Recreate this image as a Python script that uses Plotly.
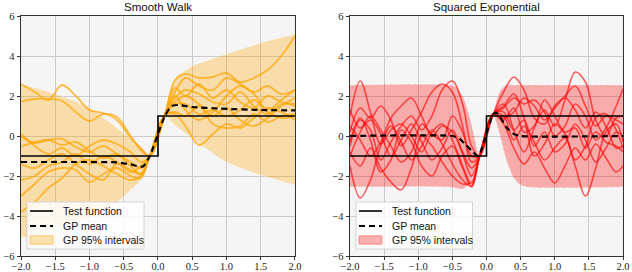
import plotly.graph_objects as go

# ---------------- data ----------------
x_ticks = [-2.0, -1.5, -1.0, -0.5, 0.0, 0.5, 1.0, 1.5, 2.0]
y_ticks = [-6, -4, -2, 0, 2, 4, 6]

test_x = [-2.0, 0.0, 0.0, 2.0]
test_y = [-1.0, -1.0, 1.0, 1.0]

# Smooth Walk panel
sw_mean_x = [-2.0, -1.2, -0.6, -0.4, -0.22, -0.12, 0.1, 0.2, 0.3, 0.5, 0.9, 1.5, 2.0]
sw_mean_y = [-1.3, -1.3, -1.32, -1.42, -1.53, -1.0, 1.0, 1.5, 1.55, 1.45, 1.37, 1.3, 1.28]

sw_band_x = [-2.0, -1.5, -1.0, -0.6, -0.4, -0.25, -0.12, 0.1, 0.15, 0.2, 0.3, 0.5, 0.75, 1.0, 1.5, 2.0]
sw_upper = [2.6, 2.1, 1.4, 0.4, -0.15, -0.65, -1.0, 1.05, 1.9, 2.5, 3.0, 3.5, 3.8, 4.1, 4.65, 5.1]
sw_lower = [-5.1, -4.7, -4.1, -3.3, -2.7, -2.2, -1.0, 1.05, 0.9, 0.7, 0.4, -0.1, -0.75, -1.3, -1.95, -2.45]

sw_knots = [-2.0, -1.8, -1.6, -1.4, -1.2, -1.0, -0.8, -0.6, -0.4, -0.25, -0.12,
            0.1, 0.25, 0.4, 0.6, 0.8, 1.0, 1.2, 1.4, 1.6, 1.8, 2.0]
sw_s1 = [2.6, 2.2, 1.8, 2.55, 2.0, 1.3, 1.15, 0.8, -0.1, -0.6, -1.0,
         1.05, 2.8, 3.1, 2.9, 2.95, 3.15, 2.7, 2.9, 3.3, 4.0, 5.0]
sw_s2 = [1.72, 1.85, 1.85, 1.75, 1.2, 0.75, 1.1, 0.95, 0.0, -0.7, -1.0,
         1.05, 2.2, 2.9, 2.5, 2.3, 2.9, 2.6, 2.2, 2.5, 2.1, 2.3]
sw_s3 = [-0.03, -0.35, -0.2, -0.15, -0.55, -0.8, -0.5, -0.9, -1.3, -1.6, -1.0,
         1.05, 1.9, 2.3, 2.1, 1.7, 1.6, 2.2, 1.5, 1.1, 1.6, 1.5]
sw_s4 = [-0.53, -0.3, -0.2, -0.45, -0.3, -0.75, -1.1, -0.9, -1.5, -1.9, -1.0,
         1.05, 1.6, 1.6, 1.1, 1.3, 1.0, 1.3, 1.8, 1.2, 0.9, 1.0]
sw_s5 = [-3.0, -2.4, -1.8, -1.6, -1.7, -2.3, -1.9, -1.6, -2.0, -2.1, -1.0,
         1.05, 1.1, 0.5, -0.45, 0.1, 0.6, 0.4, 0.9, 1.4, 1.2, 0.8]
sw_s6 = [-3.8, -3.3, -2.6, -2.1, -1.4, -1.2, -1.5, -1.9, -2.2, -2.0, -1.0,
         1.05, 1.7, 2.0, 1.6, 1.0, 1.4, 0.8, 0.5, 0.9, 1.5, 1.9]
sw_s7 = [0.1, -0.5, -0.9, -0.6, -1.0, -0.5, -0.2, -0.4, -0.8, -1.3, -1.0,
         1.05, 2.4, 2.0, 2.6, 1.9, 2.3, 1.7, 1.4, 2.0, 1.7, 1.6]
sw_s8 = [-1.4, -1.6, -1.2, -0.9, -1.4, -1.9, -2.2, -1.4, -1.7, -1.9, -1.0,
         1.05, 1.2, 1.0, 1.5, 0.6, 0.4, 0.5, 1.1, 0.7, 1.0, 1.1]
sw_s9 = [-2.2, -2.0, -1.5, -1.3, -0.9, -1.4, -1.0, -1.3, -1.8, -1.5, -1.0,
         1.05, 2.0, 1.3, 0.8, 1.2, 2.0, 2.5, 2.1, 1.3, 1.8, 2.3]
sw_samples = [sw_s1, sw_s2, sw_s3, sw_s4, sw_s5, sw_s6, sw_s7, sw_s8, sw_s9]

# Squared Exponential panel
se_mean_x = [-2.0, -0.5, -0.4, -0.3, -0.2, -0.12, 0.1, 0.15, 0.2, 0.3, 0.4, 0.5, 2.0]
se_mean_y = [0.0, 0.0, -0.12, -0.45, -0.8, -1.0, 1.1, 1.15, 0.95, 0.4, 0.1, 0.0, 0.0]

se_band_x = [-2.0, -0.55, -0.45, -0.35, -0.25, -0.18, -0.1, 0.1, 0.15, 0.2, 0.25, 0.3, 0.4, 0.5, 0.6, 2.0]
se_upper = [2.55, 2.55, 2.45, 2.0, 1.0, 0.0, -1.0, 1.1, 1.8, 2.25, 2.45, 2.55, 2.55, 2.55, 2.55, 2.55]
se_lower = [-2.55, -2.55, -2.6, -2.65, -2.4, -1.8, -1.0, 1.1, 0.6, 0.0, -0.7, -1.3, -2.1, -2.45, -2.55, -2.55]

se_knots = [-2.0, -1.85, -1.7, -1.55, -1.4, -1.25, -1.1, -0.95, -0.8, -0.65, -0.5, -0.35, -0.22, -0.1,
            0.1, 0.25, 0.4, 0.55, 0.7, 0.85, 1.0, 1.15, 1.3, 1.45, 1.6, 1.75, 1.9, 2.0]
se_s1 = [1.0, 2.75, 1.2, -0.4, 0.3, 0.6, 0.0, -0.8, 0.2, 0.6, -0.2, -1.5, -2.4, -1.0,
         1.1, 1.6, 0.3, -0.8, 0.4, 1.3, 0.5, 1.8, 3.2, 2.7, 0.8, 0.0, 0.9, 1.0]
se_s2 = [-1.5, -3.1, -2.2, -0.5, 0.5, -0.3, -1.2, -0.5, 0.3, -0.4, -1.4, -2.2, -2.5, -1.0,
         1.1, 1.0, -0.2, 0.5, -0.3, -1.2, -0.6, -0.1, -1.5, -3.0, -1.6, 0.2, 0.6, -0.3]
se_s3 = [0.2, 1.4, 0.9, 1.5, 0.8, -0.5, 0.3, 1.2, 2.2, 2.6, 2.2, 0.5, -1.3, -1.0,
         1.1, 2.2, 2.95, 2.3, 0.9, 0.6, 1.5, 1.9, 1.3, 0.4, 1.2, 0.5, -0.6, -0.5]
se_s4 = [-0.5, 0.8, 0.3, -1.2, -0.3, 0.5, 1.0, 0.3, 1.0, 2.3, 2.75, 1.6, -0.5, -1.0,
         1.1, 1.4, 1.9, 1.6, 1.8, 1.2, 0.0, 0.5, 1.6, 1.0, -0.2, 0.4, 1.5, 2.35]
se_s5 = [0.5, -0.2, -1.0, -0.3, 0.9, 1.5, 1.9, 1.0, 0.0, 0.5, 0.2, -0.8, -1.6, -1.0,
         1.1, 0.9, 1.2, 1.9, 1.5, 0.8, 1.4, 2.0, 2.5, 1.5, 0.5, 1.0, 0.8, 0.6]
se_s6 = [-0.8, -1.5, -0.6, -1.6, -2.3, -2.7, -1.6, 0.0, -0.5, -1.3, -2.0, -2.4, -2.3, -1.0,
         1.1, 0.6, -0.6, -1.4, -0.8, -1.6, -2.35, -1.5, -0.6, -1.2, -0.4, -1.1, -1.8, -1.5]
se_s7 = [1.3, 0.4, 0.8, 0.1, -1.0, -0.2, 0.6, -0.3, -1.2, -0.6, 0.3, -0.9, -2.0, -1.0,
         1.1, 1.2, 0.3, 0.8, -0.5, 0.2, -0.8, -0.4, 0.6, -0.2, -1.3, -0.6, 0.2, 0.0]
se_s8 = [-0.3, 0.9, -0.2, -1.8, -1.2, 0.3, -0.3, -1.5, -2.0, -1.0, -0.5, -1.6, -2.55, -1.0,
         1.1, 1.5, 2.1, 0.9, -1.0, -0.4, 0.6, 0.1, -1.2, -0.5, 0.9, 1.1, 0.3, -0.6]
se_s9 = [-1.0, 0.2, 1.0, 0.3, -0.5, -1.3, -0.8, 0.6, 0.1, -0.2, 1.0, 0.2, -1.0, -1.0,
         1.1, 0.8, 1.4, 0.2, 0.5, 1.8, 1.0, 0.2, 0.4, -0.6, 0.2, -0.3, -0.5, -0.8]
se_samples = [se_s1, se_s2, se_s3, se_s4, se_s5, se_s6, se_s7, se_s8, se_s9]

panel_titles = ["Smooth Walk", "Squared Exponential"]
legend_labels = ["Test function", "GP mean", "GP 95% intervals"]

# ---------------- styles ----------------
SANS = "Liberation Sans"
SERIF = "Liberation Serif"
panels = [
    dict(xa="x", ya="y", mean_x=sw_mean_x, mean_y=sw_mean_y,
         bx=sw_band_x, up=sw_upper, lo=sw_lower, knots=sw_knots, samples=sw_samples,
         band="rgba(255,165,0,0.3)", line="rgba(255,165,0,0.72)", edge="rgba(255,190,90,0.9)", lw=1.8),
    dict(xa="x2", ya="y2", mean_x=se_mean_x, mean_y=se_mean_y,
         bx=se_band_x, up=se_upper, lo=se_lower, knots=se_knots, samples=se_samples,
         band="rgba(255,0,0,0.3)", line="rgba(255,0,0,0.62)", edge="rgba(255,120,120,0.9)", lw=1.6),
]

fig = go.Figure()
for p in panels:
    fig.add_trace(go.Scatter(x=p["bx"], y=p["lo"], mode="lines", xaxis=p["xa"], yaxis=p["ya"],
                             line=dict(color="rgba(255,255,255,0.6)", width=0.7, dash="dot", shape="spline", smoothing=0.8),
                             showlegend=False, hoverinfo="skip"))
    fig.add_trace(go.Scatter(x=p["bx"], y=p["up"], mode="lines", xaxis=p["xa"], yaxis=p["ya"],
                             fill="tonexty", fillcolor=p["band"],
                             line=dict(color="rgba(255,255,255,0.6)", width=0.7, dash="dot", shape="spline", smoothing=0.8),
                             showlegend=False, hoverinfo="skip"))
    for s in p["samples"]:
        fig.add_trace(go.Scatter(x=p["knots"], y=s, mode="lines", xaxis=p["xa"], yaxis=p["ya"],
                                 line=dict(color=p["line"], width=p["lw"], shape="spline", smoothing=1.0),
                                 showlegend=False, hoverinfo="skip"))
    fig.add_trace(go.Scatter(x=test_x, y=test_y, mode="lines", xaxis=p["xa"], yaxis=p["ya"],
                             line=dict(color="black", width=1.6), showlegend=False, hoverinfo="skip"))
    fig.add_trace(go.Scatter(x=p["mean_x"], y=p["mean_y"], mode="lines", xaxis=p["xa"], yaxis=p["ya"],
                             line=dict(color="black", width=2.2, dash="6px,4px", shape="spline", smoothing=0.6),
                             showlegend=False, hoverinfo="skip"))

axis_common = dict(showline=True, mirror=True, linecolor="#333333", linewidth=1.3,
                   ticks="outside", ticklen=3, tickcolor="#333333", tickwidth=1,
                   showgrid=True, gridcolor="#cbcbcb", gridwidth=1, zeroline=False, automargin=False,
                   tickfont=dict(family=SERIF, size=10.5, color="#222222"))
x_common = dict(axis_common, range=[-2, 2], tickvals=x_ticks, tickformat=".1f", ticklabelstandoff=-3)
y_common = dict(axis_common, range=[-6, 6], tickvals=y_ticks)

# hand-drawn legend boxes (one per panel), positioned in each panel's domain fractions
shapes = []
annotations = []
leg_x0, leg_x1, leg_y0, leg_y1 = 0.022, 0.449, 0.029, 0.225
sym_x0, sym_x1, txt_x = 0.033, 0.117, 0.146
row_y = [0.1875, 0.125, 0.0667]
for p in panels:
    xr, yr = p["xa"] + " domain", p["ya"] + " domain"
    shapes.append(dict(type="rect", xref=xr, yref=yr, x0=leg_x0, x1=leg_x1, y0=leg_y0, y1=leg_y1,
                       fillcolor="rgba(255,255,255,0.82)", line=dict(color="#d4d4d4", width=1), layer="above"))
    shapes.append(dict(type="line", xref=xr, yref=yr, x0=sym_x0, x1=sym_x1, y0=row_y[0], y1=row_y[0],
                       line=dict(color="black", width=1.6), layer="above"))
    shapes.append(dict(type="line", xref=xr, yref=yr, x0=sym_x0, x1=sym_x1, y0=row_y[1], y1=row_y[1],
                       line=dict(color="black", width=2.2, dash="6px,4px"), layer="above"))
    shapes.append(dict(type="rect", xref=xr, yref=yr, x0=sym_x0, x1=sym_x1, y0=row_y[2] - 0.017, y1=row_y[2] + 0.017,
                       fillcolor=p["band"], line=dict(color=p["edge"], width=1), layer="above"))
    for lab, ry in zip(legend_labels, row_y):
        annotations.append(dict(text=lab, xref=xr, yref=yr, x=txt_x, y=ry, xanchor="left", yanchor="middle",
                                showarrow=False, font=dict(family=SANS, size=10.5, color="#111111")))

for title, xa in zip(panel_titles, ["x", "x2"]):
    annotations.append(dict(text=title, x=0.5, y=1, xref=xa + " domain", yref="paper",
                            xanchor="center", yanchor="bottom", yshift=1, showarrow=False,
                            font=dict(family=SANS, size=11.5, color="#111111")))

fig.update_layout(
    width=632, height=272,
    margin=dict(l=21, r=9, t=16, b=16),
    paper_bgcolor="white", plot_bgcolor="#f5f5f5",
    showlegend=False,
    xaxis=dict(x_common, domain=[0, 0.4551], anchor="y"),
    yaxis=dict(y_common, anchor="x"),
    xaxis2=dict(x_common, domain=[0.5465, 1], anchor="y2"),
    yaxis2=dict(y_common, anchor="x2"),
    shapes=shapes,
    annotations=annotations,
)

fig.write_html("out.html",
               config={"displayModeBar": False, "staticPlot": True},
               post_script="document.body.style.margin='0';document.body.style.overflow='hidden';")
